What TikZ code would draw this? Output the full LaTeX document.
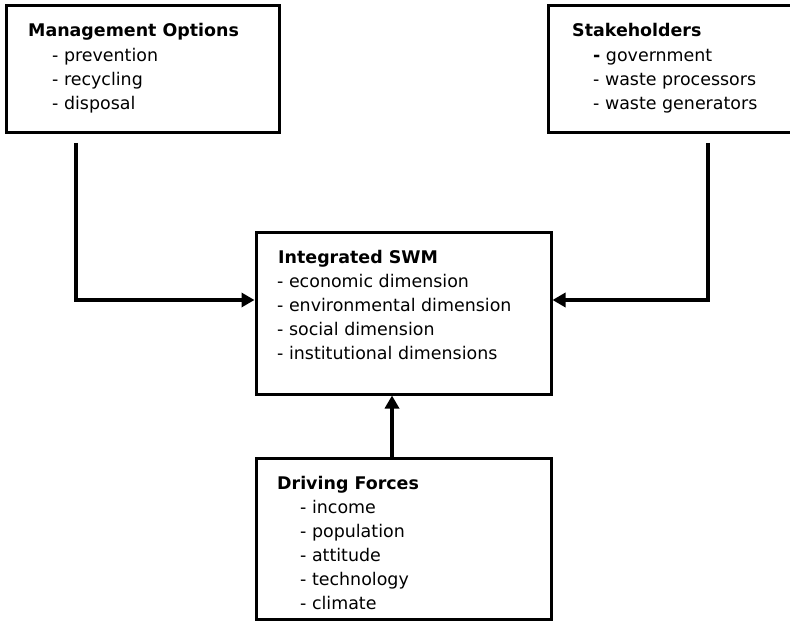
\documentclass[tikz,border=0pt]{standalone}
\usepackage{fontspec}
\setmainfont{DejaVu Sans}
\usepackage{tikz}
\usetikzlibrary{arrows.meta}

\begin{document}
\begin{tikzpicture}[x=1bp, y=-1bp,
        box/.style = {draw, line width=3bp, minimum width=#1, inner sep=0pt},
        title/.style = {anchor=base west, inner sep=0pt, font=\fontsize{17.5}{21}\selectfont\bfseries},
        item/.style = {anchor=base west, inner sep=0pt, font=\fontsize{17.5}{21}\selectfont},
        conn/.style = {line width=3.5bp, -{Triangle[length=13bp,width=14bp]}}]
    \useasboundingbox (0, 0) rectangle (790, 621);

    % the four boxes (stakeholders runs off the right edge)
    \node[box=272bp, minimum height=127bp] (mo) at (143, 69.5) {};
    \node[box=244bp, minimum height=127bp] (sh) at (670.5, 69.5) {};
    \node[box=295bp, minimum height=161bp] (iswm) at (403.5, 313.5) {};
    \node[box=295bp, minimum height=161bp] (df) at (403.5, 538.5) {};

    % management options
    \node[title] (mo-title) at (28, 37) {Management Options};
    \foreach \t [count=\i] in {prevention, recycling, disposal}
        \node[item] (mo-\i) at (52, 38 + 23.7*\i) {- \t};

    % stakeholders
    \node[title] (sh-title) at (572, 37) {Stakeholders};
    \foreach \t [count=\i] in {{\textbf{-} government}, {- waste processors}, {- waste generators}}
        \node[item] (sh-\i) at (593, 38 + 23.7*\i) {\t};

    % integrated swm
    \node[title] (iswm-title) at (278, 263) {Integrated SWM};
    \foreach \t [count=\i] in {economic dimension, environmental dimension,
            social dimension, institutional dimensions}
        \node[item] (iswm-\i) at (277, 263 + 24*\i) {- \t};

    % driving forces
    \node[title] (df-title) at (277, 489) {Driving Forces};
    \foreach \t [count=\i] in {income, population, attitude, technology, climate}
        \node[item] (df-\i) at (300, 489 + 24.1*\i) {- \t};

    % connectors
    \coordinate (mo-out) at (76, 143);
    \coordinate (sh-out) at (708, 143);
    \draw[conn] (mo-out) |- ([yshift=13.5bp]iswm.west);
    \draw[conn] (sh-out) |- ([yshift=13.5bp]iswm.east);
    \draw[conn] ([xshift=-11.5bp]df.north) -- ([xshift=-11.5bp]iswm.south);
\end{tikzpicture}
\end{document}
